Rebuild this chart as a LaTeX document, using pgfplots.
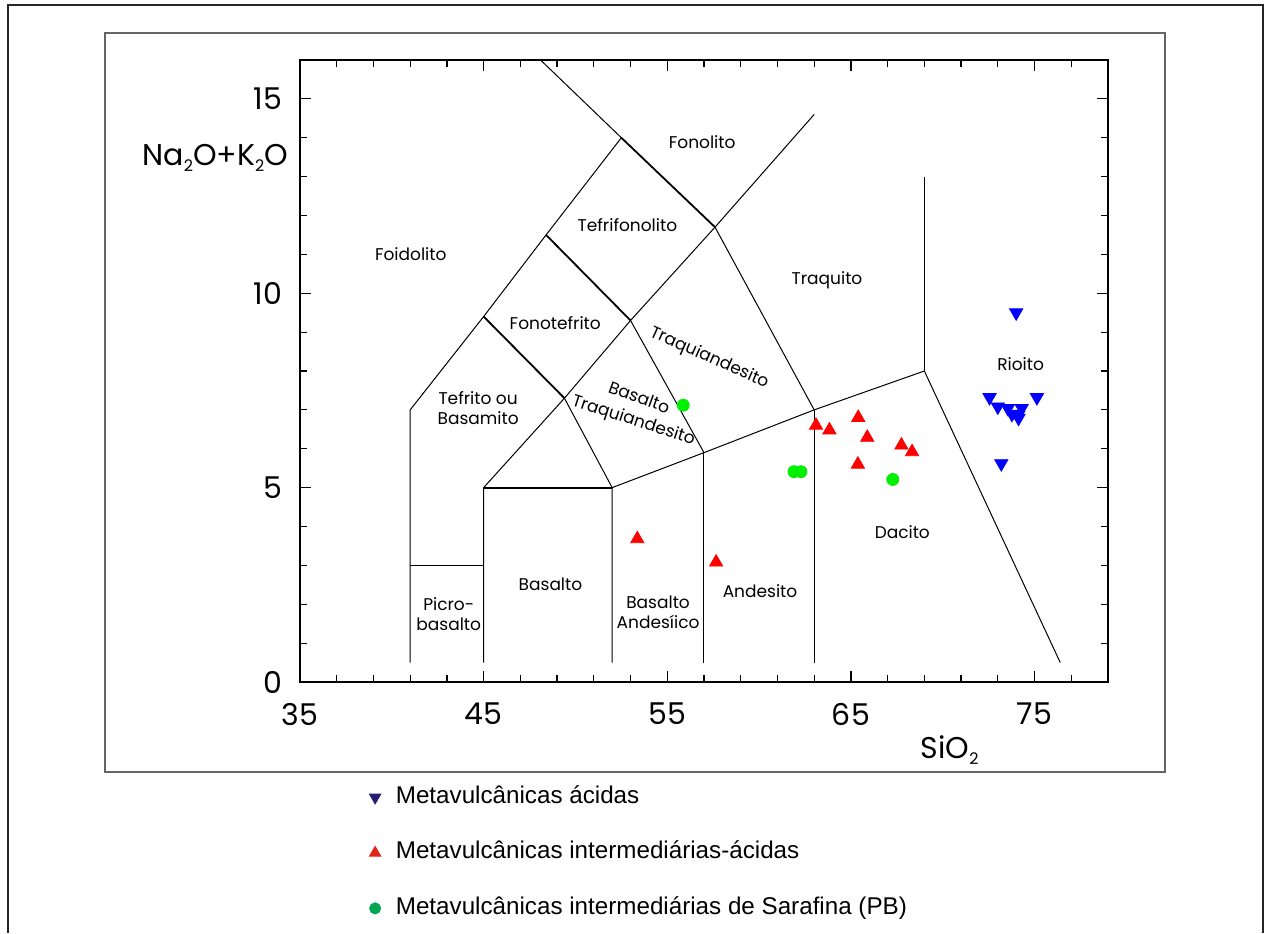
\documentclass[border=0pt]{standalone}
\usepackage{fontspec}
\setmainfont{Liberation Sans}
\newfontfamily\cg{Poppins}
\usepackage{pgfplots}
\pgfplotsset{compat=1.18}
\definecolor{ptblue}{RGB}{0,0,255}
\definecolor{ptred}{RGB}{255,0,0}
\definecolor{ptgreen}{RGB}{0,240,0}
\definecolor{legblue}{RGB}{40,30,120}
\definecolor{legred}{RGB}{226,35,26}
\definecolor{leggreen}{RGB}{0,166,81}
\newcommand\lab{\cg\fontsize{8.5}{10}\selectfont}
\newcommand\sub[1]{\raisebox{-0.35ex}{\fontsize{8}{8}\selectfont #1}}
\begin{document}
\begin{tikzpicture}[x=1pt,y=1pt]
\useasboundingbox (0,0) rectangle (632,466.5);
\draw[line width=1pt, color=black!85] (4,0) -- (4,464) -- (631.3,464) -- (631.3,0);
\draw[line width=1pt, color=black!60] (52.5,80.65) rectangle (582.5,450);
\begin{axis}[at={(150pt,125.5pt)}, anchor=south west, scale only axis,
  width=404pt, height=311pt, xmin=35, xmax=79, ymin=0, ymax=16,
  xtick={35,45,55,65,75},
  minor xtick={37,39,41,43,47,49,51,53,57,59,61,63,67,69,71,73,77,79},
  ytick={0,5,10,15},
  minor ytick={1,2,3,4,6,7,8,9,11,12,13,14,16},
  major tick length=5.5pt, minor tick length=3.7pt,
  tick style={black, line width=0.6pt},
  axis line style={line width=0.8pt},
  /pgf/number format/assume math mode=true,
  ticklabel style={font=\cg\fontsize{15}{15}\selectfont},
  xticklabel style={yshift=-7pt},
  yticklabel style={xshift=-5.5pt},
  xlabel={SiO\sub{2}},
  xlabel style={font=\cg\fontsize{15}{15}\selectfont, at={(axis description cs:0.804,-0.109)}, anchor=center},
  ylabel={Na\sub{2}O+K\sub{2}O},
  ylabel style={font=\cg\fontsize{15}{15}\selectfont, rotate=-90, at={(axis description cs:-0.0062,0.842)}, anchor=east},
  legend cell align=left,
  legend style={draw=none, fill=none, at={(axis description cs:0.078,-0.1543)}, anchor=north west,
    font=\fontsize{12.1}{13}\selectfont, row sep=12.75pt,
    nodes={text height=8.5pt, text depth=2.5pt},
    /tikz/every odd column/.append style={column sep=5.5pt}},
]
\addlegendimage{only marks, mark=triangle*, mark size=3.3pt, mark options={rotate=180, fill=legblue, draw=legblue}}
\addlegendentry{Metavulcânicas ácidas}
\addlegendimage{only marks, mark=triangle*, mark size=3.3pt, mark options={fill=legred, draw=legred}}
\addlegendentry{Metavulcânicas intermediárias-ácidas}
\addlegendimage{only marks, mark=*, mark size=2.8pt, mark options={fill=leggreen, draw=leggreen}}
\addlegendentry{Metavulcânicas intermediárias de Sarafina (PB)}
% field boundaries
\addplot[black, line width=0.5pt, forget plot] coordinates {(41,0.5) (41,7) (45,9.4) (48.4,11.5) (52.5,14) (48.1,16)};
\addplot[black, line width=0.5pt, forget plot] coordinates {(45,0.5) (45,5) (49.4,7.3) (53,9.3) (57.6,11.7) (63,14.6)};
\addplot[black, line width=0.9pt, forget plot] coordinates {(45,9.4) (49.4,7.3)};
\addplot[black, line width=0.5pt, forget plot] coordinates {(49.4,7.3) (52,5)};
\addplot[black, line width=0.9pt, forget plot] coordinates {(48.4,11.5) (53,9.3)};
\addplot[black, line width=0.5pt, forget plot] coordinates {(53,9.3) (57,5.9)};
\addplot[black, line width=0.9pt, forget plot] coordinates {(52.5,14) (57.6,11.7)};
\addplot[black, line width=0.5pt, forget plot] coordinates {(57.6,11.7) (63,7)};
\addplot[black, line width=0.5pt, forget plot] coordinates {(41,3) (45,3)};
\addplot[black, line width=0.9pt, forget plot] coordinates {(45,5) (52,5)};
\addplot[black, line width=0.5pt, forget plot] coordinates {(52,0.5) (52,5) (57,5.9) (63,7) (69,8) (76.4,0.5)};
\addplot[black, line width=0.5pt, forget plot] coordinates {(57,0.5) (57,5.9)};
\addplot[black, line width=0.5pt, forget plot] coordinates {(63,0.5) (63,7)};
\addplot[black, line width=0.5pt, forget plot] coordinates {(69,8) (69,13)};
% data
\addplot[only marks, mark=triangle*, mark size=3.8pt, mark options={rotate=180, fill=ptblue, draw=ptblue}, forget plot] coordinates {
(74.0,9.5) (72.55,7.32) (75.13,7.32) (73.0,7.08) (73.55,7.04) (73.77,6.89) (74.1,6.86) (74.3,7.04) (74.13,6.79) (73.19,5.62)};
\addplot[only marks, mark=triangle*, mark size=3.8pt, mark options={fill=ptred, draw=ptred}, forget plot] coordinates {
(63.1,6.6) (63.83,6.48) (65.4,6.8) (65.89,6.29) (65.38,5.6) (67.75,6.09) (68.33,5.92) (53.37,3.68) (57.66,3.08)};
\addplot[only marks, mark=*, mark size=3pt, mark options={fill=ptgreen, draw=ptgreen}, forget plot] coordinates {
(55.87,7.12) (61.9,5.41) (62.28,5.41) (67.28,5.21)};
% labels
\node[font=\lab] at (axis cs:56.9,13.88) {Fonolito};
\node[font=\lab] at (axis cs:52.83,11.75) {Tefrifonolito};
\node[font=\lab] at (axis cs:41.03,11.0) {Foidolito};
\node[font=\lab] at (axis cs:63.7,10.33) {Traquito};
\node[font=\lab] at (axis cs:48.9,9.23) {Fonotefrito};
\node[font=\lab, rotate=-24, inner sep=1pt] at (axis cs:57.28,8.33) {Traquiandesito};
\node[font=\lab, rotate=-20, inner sep=1pt] at (axis cs:53.48,7.33) {Basalto};
\node[font=\lab, rotate=-18, inner sep=1pt] at (axis cs:53.15,6.71) {Traquiandesito};
\node[font=\lab, align=center] at (axis cs:44.7,7.05) {Tefrito ou\\Basamito};
\node[font=\lab] at (axis cs:74.24,8.17) {Rioito};
\node[font=\lab] at (axis cs:67.8,3.86) {Dacito};
\node[font=\lab] at (axis cs:48.64,2.52) {Basalto};
\node[font=\lab, align=center] at (axis cs:43.1,1.75) {Picro-\\basalto};
\node[font=\lab, align=center] at (axis cs:54.5,1.8) {Basalto\\Andesíico};
\node[font=\lab] at (axis cs:60.05,2.34) {Andesito};
\end{axis}
\end{tikzpicture}
\end{document}
